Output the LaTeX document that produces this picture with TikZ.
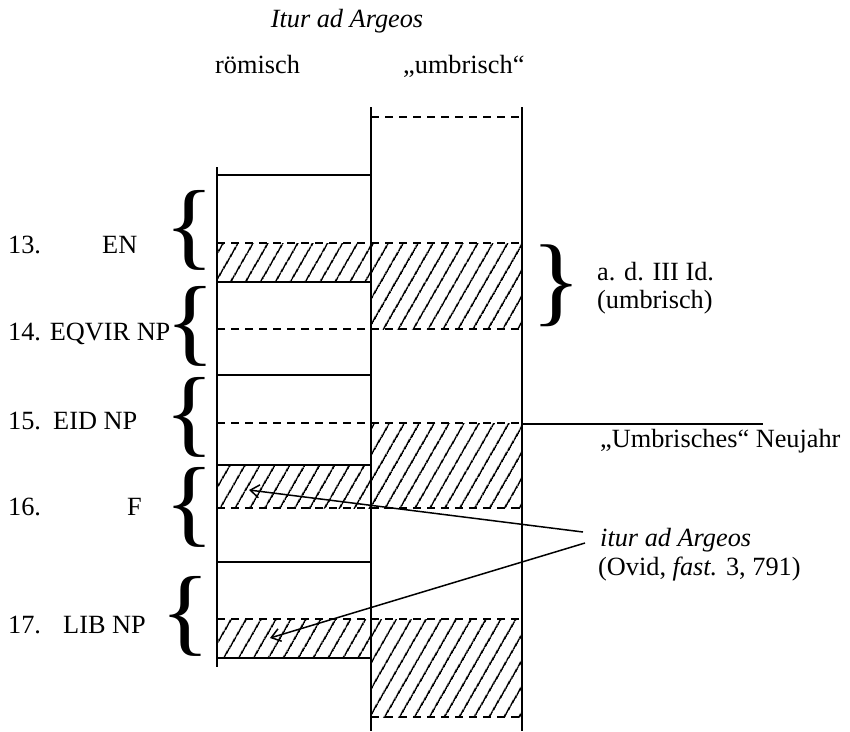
\documentclass[tikz,border=0pt]{standalone}
\usepackage{fontspec}
\setmainfont{Liberation Serif}
\usetikzlibrary{patterns.meta,arrows.meta}
\tikzset{
  vline/.style={line width=2.2pt},
  hline/.style={line width=1.6pt},
  dline/.style={line width=1.6pt, dash pattern=on 8pt off 6pt},
  hatch/.style={pattern={Lines[angle=60,distance=13pt,line width=1.8pt]}},
  lbl/.style={inner sep=0pt, anchor=base west, font=\fontsize{26.3}{30}\selectfont},
  bracebox/.style={inner sep=0pt, anchor=center},
  ptr/.style={line width=1.5pt, -{Straight Barb[length=9pt,width=13pt,line width=1.5pt]}},
}
\newcommand{\myLbr}{\resizebox*{50pt}{80pt}{\fontsize{80}{80}\selectfont\{}}
\newcommand{\myRbr}{\resizebox*{50pt}{82pt}{\fontsize{80}{80}\selectfont\}}}
\begin{document}
\begin{tikzpicture}[x=1pt,y=-1pt]
\useasboundingbox (0,0) rectangle (850,731);
\fill[white] (0,0) rectangle (850,731);

% hatched areas
\fill[hatch] (217,243) rectangle (371,282);
\fill[hatch] (371,243) rectangle (522,329);
\fill[hatch] (217,465) rectangle (371,508);
\fill[hatch] (371,423) rectangle (522,508);
\fill[hatch] (217,619) rectangle (371,658);
\fill[hatch] (371,619) rectangle (522,717);

% vertical lines
\draw[vline] (217,167) -- (217,667);
\draw[vline] (371,107) -- (371,731);
\draw[vline] (522,107) -- (522,731);

% solid horizontals (left column)
\foreach \yy in {175,282,375,465,562,658}
  \draw[hline] (217,\yy) -- (371,\yy);

% dashed horizontals
\draw[dline] (371,117) -- (522,117);
\foreach \yy in {243,329,423,508,619}
  \draw[dline] (217,\yy) -- (522,\yy);
\draw[dline] (371,717) -- (522,717);

% pointer line to Neujahr
\coordinate (nj1) at (522,424);
\coordinate (nj2) at (763,424);
\draw[hline] (nj1) -- (nj2);

% titles
\node[lbl, anchor=base, font=\fontsize{26.3}{30}\selectfont\itshape] (title) at (347,27) {Itur ad Argeos};
\node[lbl] (rom) at (215,73) {römisch};
\node[lbl] (umb) at (403,73) {„umbrisch“};

% left labels
\node[lbl] (t13) at (8,253) {13.};
\node[lbl] (ten) at (102,253) {EN};
\node[lbl] (t14) at (8,340) {14. EQVIR NP};
\node[lbl] (t15) at (8,429) {15.};
\node[lbl] (teid) at (53,429) {EID NP};
\node[lbl] (t16) at (8,515) {16.};
\node[lbl] (tf) at (127,515) {F};
\node[lbl] (t17) at (8,633) {17.};
\node[lbl] (tlib) at (63,633) {LIB NP};

% braces
\node[bracebox] (b1) at (189,230) {\myLbr};
\node[bracebox] (b2) at (190,326) {\myLbr};
\node[bracebox] (b3) at (189,417) {\myLbr};
\node[bracebox] (b4) at (189,507) {\myLbr};
\node[bracebox] (b5) at (185,616) {\myLbr};
\node[bracebox] (b6) at (556,286) {\myRbr};

% right labels
\node[lbl] (ad) at (597,280) {a. d. III Id.};
\node[lbl] (umb2) at (597,308) {(umbrisch)};
\node[lbl] (neu) at (600,447) {„Umbrisches“ Neujahr};
\node[lbl] (itur) at (600,546) {\itshape itur ad Argeos};
\node[lbl] (ovid) at (598,575) {(Ovid, \textit{fast.} 3, 791)};

% arrows
\coordinate (s1) at (583,532);
\coordinate (e1) at (249,490);
\coordinate (s2) at (585,543);
\coordinate (e2) at (270,638);
\draw[ptr] (s1) -- (e1);
\draw[ptr] (s2) -- (e2);
\end{tikzpicture}
\end{document}
